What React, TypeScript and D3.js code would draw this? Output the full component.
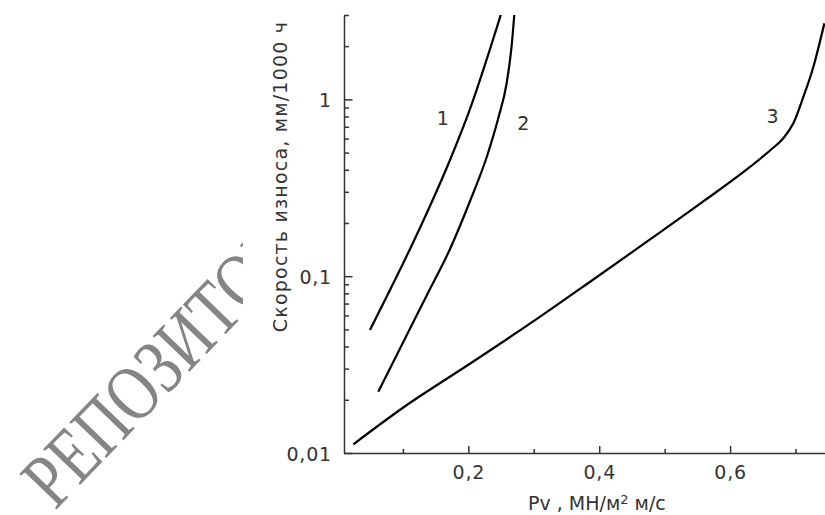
import React, { useRef, useEffect } from "react";
import * as d3 from "d3";

// curve 1
const curve1X = [0.0497, 0.0803, 0.1109, 0.1414, 0.172, 0.2026, 0.2332, 0.2495];
const curve1Y = [0.0496, 0.0835, 0.1425, 0.2495, 0.4541, 0.8826, 1.928, 3.0];
// curve 2
const curve2X = [0.0624, 0.1006, 0.1364, 0.172, 0.2026, 0.2281, 0.2458, 0.2586, 0.2663, 0.2702];
const curve2Y = [0.0222, 0.0425, 0.0778, 0.1425, 0.2662, 0.4722, 0.7848, 1.238, 2.031, 3.0];
// curve 3
const curve3X = [0.0242, 0.1006, 0.2, 0.3008, 0.391, 0.4777, 0.559, 0.6304, 0.661, 0.6813, 0.6966, 0.7119, 0.7272, 0.744];
const curve3Y = [0.0112, 0.01809, 0.03154, 0.05601, 0.09579, 0.1613, 0.2646, 0.4146, 0.514, 0.6026, 0.732, 1.032, 1.525, 2.69];

const curves = [
  { xs: curve1X, ys: curve1Y },
  { xs: curve2X, ys: curve2Y },
  { xs: curve3X, ys: curve3Y },
];

const curveLabels = ["1", "2", "3"];
const curveLabelX = [0.161, 0.284, 0.665];
const curveLabelY = [0.712, 0.668, 0.731];

const yMajorTicks = [0.01, 0.1, 1];
const yTickLabels = ["0,01", "0,1", "1"];
const yMinorTicks = [
  0.02, 0.03, 0.04, 0.05, 0.06, 0.07, 0.08, 0.09,
  0.2, 0.3, 0.4, 0.5, 0.6, 0.7, 0.8, 0.9,
  2, 3,
];

const xMajorTicks = [0.2, 0.4, 0.6];
const xTickLabels = ["0,2", "0,4", "0,6"];
const xMinorTicks = [0.1, 0.3, 0.5, 0.7];

const FONT = "'DejaVu Sans', Verdana, sans-serif";

export default function App() {
  const ref = useRef<SVGSVGElement>(null);

  useEffect(() => {
    const svg = d3.select(ref.current);
    svg.selectAll("*").remove();

    const width = 825;
    const height = 515;
    const margin = { top: 15, right: 0, bottom: 62, left: 344 };

    const x = d3
      .scaleLinear()
      .domain([0.01, 0.745])
      .range([margin.left, width - margin.right]);

    const y = d3
      .scaleLog()
      .domain([0.01, 3])
      .range([height - margin.bottom, margin.top]);

    // watermark (cut off before the axis title)
    svg
      .append("defs")
      .append("clipPath")
      .attr("id", "wm-clip")
      .append("rect")
      .attr("x", 0)
      .attr("y", 0)
      .attr("width", 243)
      .attr("height", height);

    svg
      .append("g")
      .attr("clip-path", "url(#wm-clip)")
      .append("text")
      .attr("transform", "translate(55,511) rotate(-46) scale(1.1,1.4)")
      .attr("font-family", "'Liberation Serif', 'Times New Roman', serif")
      .attr("font-size", 56)
      .attr("fill", "#858585")
      .text("РЕПОЗИТОРИЙ");

    // y axis, minor ticks
    const yMinor = svg
      .append("g")
      .attr("transform", `translate(${margin.left},0)`)
      .call(
        d3
          .axisLeft(y)
          .tickValues(yMinorTicks)
          .tickSize(-5)
          .tickSizeOuter(0)
          .tickFormat(() => "")
      );

    // y axis, major ticks
    const yMajor = svg
      .append("g")
      .attr("transform", `translate(${margin.left},0)`)
      .call(
        d3
          .axisLeft(y)
          .tickValues(yMajorTicks)
          .tickSize(-8.5)
          .tickSizeOuter(0)
          .tickPadding(12)
          .tickFormat((d, i) => yTickLabels[i])
      );
    yMajor.select(".domain").remove();

    // x axis
    const xMinor = svg
      .append("g")
      .attr("transform", `translate(0,${height - margin.bottom})`)
      .call(
        d3
          .axisBottom(x)
          .tickValues(xMinorTicks)
          .tickSize(-4)
          .tickSizeOuter(0)
          .tickFormat(() => "")
      );

    const xMajor = svg
      .append("g")
      .attr("transform", `translate(0,${height - margin.bottom})`)
      .call(
        d3
          .axisBottom(x)
          .tickValues(xMajorTicks)
          .tickSize(-7)
          .tickSizeOuter(0)
          .tickPadding(13)
          .tickFormat((d, i) => xTickLabels[i])
      );
    xMajor.select(".domain").remove();

    [yMinor, yMajor, xMinor, xMajor].forEach((g) => {
      g.selectAll("path, line").attr("stroke", "#333").attr("stroke-width", 1.5);
      g.selectAll("text")
        .attr("font-family", FONT)
        .attr("font-size", 19)
        .attr("letter-spacing", 0.8)
        .attr("fill", "#333");
    });
    yMajor.selectAll("text").attr("dy", "0.4em");

    // curves
    curves.forEach((c) => {
      const line = d3
        .line<number>()
        .x((d, i) => x(c.xs[i]))
        .y((d) => y(d))
        .curve(d3.curveMonotoneX);
      svg
        .append("path")
        .attr("d", line(c.ys))
        .attr("fill", "none")
        .attr("stroke", "#000")
        .attr("stroke-width", 2.2);
    });

    // curve labels
    svg
      .selectAll(".clabel")
      .data(curveLabels)
      .join("text")
      .attr("class", "clabel")
      .attr("x", (d, i) => x(curveLabelX[i]))
      .attr("y", (d, i) => y(curveLabelY[i]))
      .attr("text-anchor", "middle")
      .attr("font-family", FONT)
      .attr("font-size", 19)
      .attr("fill", "#333")
      .text((d) => d);

    // y label
    svg
      .append("text")
      .attr("transform", "translate(287,176.5) rotate(-90)")
      .attr("text-anchor", "middle")
      .attr("font-family", FONT)
      .attr("font-size", 19)
      .attr("letter-spacing", 1.2)
      .attr("fill", "#333")
      .text("Скорость износа, мм/1000 ч");

    // x label
    const xl = svg
      .append("text")
      .attr("x", 528)
      .attr("y", 510)
      .attr("font-family", FONT)
      .attr("font-size", 19)
      .attr("fill", "#333");
    xl.append("tspan").text("Pv , МН/м");
    xl.append("tspan").attr("font-size", 13).attr("dy", -6).text("2");
    xl.append("tspan").attr("dy", 6).text(" м/с");
  }, []);

  return (
    <svg
      ref={ref}
      width={825}
      height={515}
      style={{ position: "absolute", left: 0, top: 0, background: "#fff" }}
    />
  );
}
